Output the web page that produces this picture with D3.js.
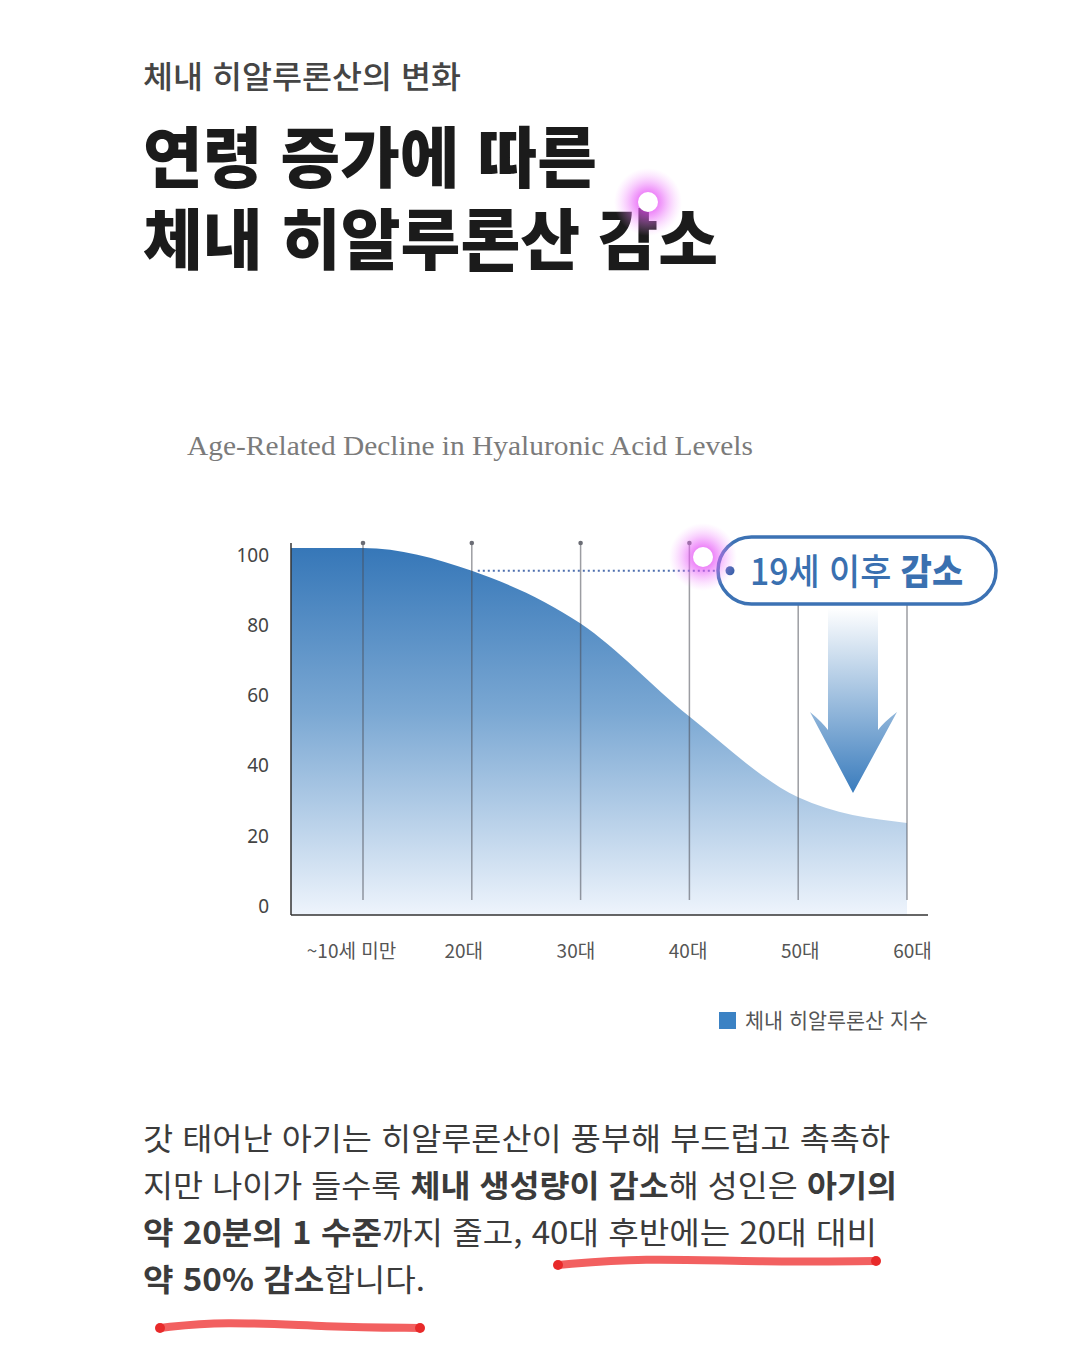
<!DOCTYPE html>
<html lang="ko">
<head>
<meta charset="utf-8">
<title>체내 히알루론산의 변화</title>
<script src="https://cdn.jsdelivr.net/npm/d3@7"></script>
<style>
  html, body { margin: 0; padding: 0; background: #fff; }
  svg { display: block; }
  text { font-family: "Noto Sans CJK KR", "Noto Sans", sans-serif; }
</style>
</head>
<body>
<script>
// data
var ages = ["~10세 미만", "20대", "30대", "40대", "50대", "60대"];
var levels = [102, 95.5, 80.5, 54, 31, 23.7];
var yTicks = [0, 20, 40, 60, 80, 100];
var legendLabel = "체내 히알루론산 지수";
var badgeParts = [["19세 이후 ", 500], ["감소", 800]];

var W = 1080, H = 1348;
var svg = d3.select("body").append("svg").attr("width", W).attr("height", H);
var defs = svg.append("defs");

// gradients
var g1 = defs.append("linearGradient").attr("id", "areaGrad")
  .attr("x1", 0).attr("y1", 0).attr("x2", 0).attr("y2", 1);
g1.append("stop").attr("offset", "0%").attr("stop-color", "#3677b8");
g1.append("stop").attr("offset", "45%").attr("stop-color", "#7ba8d3");
g1.append("stop").attr("offset", "100%").attr("stop-color", "#eef4fc");

var g2 = defs.append("linearGradient").attr("id", "arrowGrad")
  .attr("x1", 0).attr("y1", 0).attr("x2", 0).attr("y2", 1);
g2.append("stop").attr("offset", "0%").attr("stop-color", "#ffffff");
g2.append("stop").attr("offset", "100%").attr("stop-color", "#3a7cbd");

var glow = defs.append("radialGradient").attr("id", "glow");
glow.append("stop").attr("offset", "0%").attr("stop-color", "#e030f0").attr("stop-opacity", 0.95);
glow.append("stop").attr("offset", "45%").attr("stop-color", "#e860f8").attr("stop-opacity", 0.55);
glow.append("stop").attr("offset", "100%").attr("stop-color", "#f6a8ff").attr("stop-opacity", 0);

function fit(sel, w, adj) {
  sel.attr("textLength", w).attr("lengthAdjust", adj || "spacingAndGlyphs");
}

// headings
svg.append("text").attr("x", 143).attr("y", 88)
  .attr("font-size", 31).attr("font-weight", 500).attr("fill", "#454545")
  .text("체내 히알루론산의 변화").call(fit, 318);

svg.append("text").attr("x", 143).attr("y", 182)
  .attr("font-size", 66).attr("font-weight", 800).attr("fill", "#1b1b1b")
  .text("연령 증가에 따른").call(fit, 454);
svg.append("text").attr("x", 143).attr("y", 264)
  .attr("font-size", 66).attr("font-weight", 800).attr("fill", "#1b1b1b")
  .text("체내 히알루론산 감소").call(fit, 575);

function glowDot(cx, cy) {
  svg.append("circle").attr("cx", cx).attr("cy", cy).attr("r", 34).attr("fill", "url(#glow)");
  svg.append("circle").attr("cx", cx).attr("cy", cy).attr("r", 10).attr("fill", "#fff");
}
glowDot(648, 202);

svg.append("text").attr("x", 187).attr("y", 455)
  .attr("font-size", 27).attr("fill", "#7b7b7b")
  .style("font-family", "'Liberation Serif', 'DejaVu Serif', serif")
  .text("Age-Related Decline in Hyaluronic Acid Levels").call(fit, 566);

// chart
var plotLeft = 291, plotRight = 928, plotTop = 543, plotBottom = 915;
var x = d3.scalePoint().domain(ages).range([363, 907]);
var xLab = d3.scalePoint().domain(ages).range([351, 912]);
var y = d3.scaleLinear().domain([-2.5, 100]).range([plotBottom, 555]);

var pts = [{px: plotLeft, v: levels[0]}].concat(ages.map(function (a, i) {
  return {px: x(a), v: levels[i]};
}));

var area = d3.area()
  .x(function (d) { return d.px; })
  .y0(plotBottom)
  .y1(function (d) { return y(d.v); })
  .curve(d3.curveMonotoneX);

svg.append("path").datum(pts).attr("d", area).attr("fill", "url(#areaGrad)");

// grid lines
var grid = svg.append("g");
ages.forEach(function (a) {
  grid.append("line").attr("x1", x(a)).attr("x2", x(a))
    .attr("y1", plotTop).attr("y2", 900)
    .attr("stroke", "#4a4c55").attr("stroke-opacity", 0.55).attr("stroke-width", 1.5);
  grid.append("circle").attr("cx", x(a)).attr("cy", plotTop).attr("r", 2.3)
    .attr("fill", "#6b6d75");
});

// axes
svg.append("line").attr("x1", plotLeft).attr("x2", plotLeft)
  .attr("y1", plotTop).attr("y2", plotBottom).attr("stroke", "#333").attr("stroke-width", 1.5);
svg.append("line").attr("x1", plotLeft).attr("x2", plotRight)
  .attr("y1", plotBottom).attr("y2", plotBottom).attr("stroke", "#333").attr("stroke-width", 1.5);

var yAxis = svg.append("g").attr("transform", "translate(" + plotLeft + ",0)")
  .call(d3.axisLeft(y).tickValues(yTicks).tickSize(0).tickPadding(22));
yAxis.select(".domain").remove();
yAxis.selectAll("text").attr("font-size", 19).attr("fill", "#444")
  .style("font-family", "'Noto Sans', sans-serif");

var xAxis = svg.append("g").attr("transform", "translate(0,944)")
  .call(d3.axisBottom(xLab).tickSize(0).tickPadding(0));
xAxis.select(".domain").remove();
xAxis.selectAll("text").attr("font-size", 19).attr("fill", "#555")
  .style("font-family", "'Noto Sans CJK KR', sans-serif");

// dotted guide from 20대 value to badge
var guideY = y(levels[1]);
svg.append("line").attr("x1", x(ages[1]) + 6).attr("x2", 724)
  .attr("y1", guideY).attr("y2", guideY)
  .attr("stroke", "#4d6fae").attr("stroke-width", 2).attr("stroke-dasharray", "2,3");

// arrow
var arrowPath = d3.path();
arrowPath.moveTo(828, 608);
arrowPath.lineTo(878, 608);
arrowPath.lineTo(878, 730);
arrowPath.quadraticCurveTo(884, 722, 897, 712);
arrowPath.lineTo(853, 793);
arrowPath.lineTo(810, 712);
arrowPath.quadraticCurveTo(822, 722, 828, 730);
arrowPath.closePath();
svg.append("path").attr("d", arrowPath.toString()).attr("fill", "url(#arrowGrad)");

// badge
svg.append("rect").attr("x", 718).attr("y", 537).attr("width", 278).attr("height", 67)
  .attr("rx", 33.5).attr("fill", "#fff").attr("stroke", "#3c72b4").attr("stroke-width", 3.5);
svg.append("circle").attr("cx", 730).attr("cy", guideY).attr("r", 4.5).attr("fill", "#3c62ac");
var bt = svg.append("text").attr("x", 750).attr("y", 585)
  .attr("font-size", 36).attr("fill", "#3a70b0");
badgeParts.forEach(function (p) {
  bt.append("tspan").attr("font-weight", p[1]).text(p[0]);
});
bt.call(fit, 213);

glowDot(703, 557);

// legend
svg.append("rect").attr("x", 719).attr("y", 1012).attr("width", 17).attr("height", 17)
  .attr("fill", "#3b82c4");
svg.append("text").attr("x", 745).attr("y", 1028)
  .attr("font-size", 21).attr("fill", "#555")
  .text(legendLabel).call(fit, 183);

// paragraph
var para = [
  [["갓 태어난 아기는 히알루론산이 풍부해 부드럽고 촉촉하", 0]],
  [["지만 나이가 들수록 ", 0], ["체내 생성량이 감소", 1], ["해 성인은 ", 0], ["아기의", 1]],
  [["약 20분의 1 수준", 1], ["까지 줄고, 40대 후반에는 20대 대비", 0]],
  [["약 50% 감소", 1], ["합니다.", 0]]
];
var paraWidths = [747, 754, 734, 282];
para.forEach(function (line, i) {
  var t = svg.append("text").attr("x", 143).attr("y", 1150 + i * 47)
    .attr("font-size", 31).attr("fill", "#3b3b3b");
  line.forEach(function (seg) {
    t.append("tspan").attr("font-weight", seg[1] ? 700 : 400).text(seg[0]);
  });
  t.call(fit, paraWidths[i]);
});

// red hand-drawn underlines
var marks = [
  [[558, 1265], [640, 1258], [760, 1262], [876, 1261]],
  [[160, 1328], [220, 1321], [330, 1327], [420, 1328]]
];
var pen = d3.line().curve(d3.curveBasis);
marks.forEach(function (m) {
  svg.append("path").attr("d", pen(m)).attr("fill", "none")
    .attr("stroke", "#f26060").attr("stroke-width", 8).attr("stroke-linecap", "round");
  [m[0], m[m.length - 1]].forEach(function (p) {
    svg.append("circle").attr("cx", p[0]).attr("cy", p[1]).attr("r", 5).attr("fill", "#e82a2a");
  });
});
</script>
</body>
</html>
